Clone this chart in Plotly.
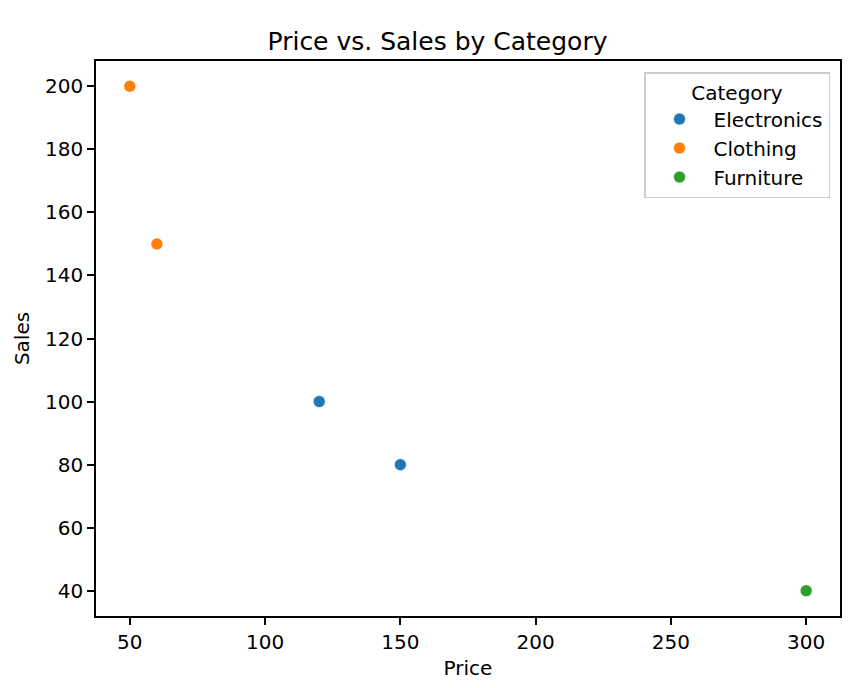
import plotly.graph_objects as go

# data
categories = ["Electronics", "Clothing", "Furniture"]
price = {
    "Electronics": [120, 150],
    "Clothing": [50, 60],
    "Furniture": [300],
}
sales = {
    "Electronics": [100, 80],
    "Clothing": [200, 150],
    "Furniture": [40],
}
colors = {"Electronics": "#1f77b4", "Clothing": "#ff7f0e", "Furniture": "#2ca02c"}

x_ticks = [50, 100, 150, 200, 250, 300]
y_ticks = [40, 60, 80, 100, 120, 140, 160, 180, 200]

fig = go.Figure()
for cat in categories:
    fig.add_trace(go.Scatter(
        x=price[cat],
        y=sales[cat],
        mode="markers",
        name=cat,
        marker=dict(size=12, color=colors[cat], line=dict(color="white", width=0.6)),
    ))

axis_style = dict(
    showline=True,
    linecolor="black",
    linewidth=1.6,
    mirror=True,
    ticks="outside",
    ticklen=7,
    tickwidth=1.6,
    tickcolor="black",
    showgrid=False,
    zeroline=False,
    tickfont=dict(size=20, color="black"),
)

fig.update_xaxes(
    range=[37.5, 312.5],
    tickvals=x_ticks,
    title=dict(text="Price", font=dict(size=20, color="black"), standoff=8),
    **axis_style,
)
fig.update_yaxes(
    range=[32, 208],
    tickvals=y_ticks,
    title=dict(text="Sales", font=dict(size=20, color="black"), standoff=10),
    **axis_style,
)

# page body has an 8px margin, so the figure is a bit smaller than the window
fig.update_layout(
    width=859,
    height=680,
    margin=dict(l=88, r=27, t=53, b=72),
    paper_bgcolor="white",
    plot_bgcolor="white",
    font=dict(family="DejaVu Sans", size=20, color="black"),
    title=dict(text="Price vs. Sales by Category", x=0.5, xanchor="center",
               y=1 - 33 / 680, yanchor="middle", font=dict(size=25, color="black")),
    legend=dict(
        title=dict(text="Category", side="top center", font=dict(size=20)),
        x=0.9866, xanchor="right",
        y=0.98, yanchor="top",
        bgcolor="rgba(255,255,255,0.8)",
        bordercolor="#cccccc",
        borderwidth=1.5,
        font=dict(size=20),
        itemwidth=58,
        tracegroupgap=0,
    ),
    showlegend=True,
)

fig.write_html("out.html")
